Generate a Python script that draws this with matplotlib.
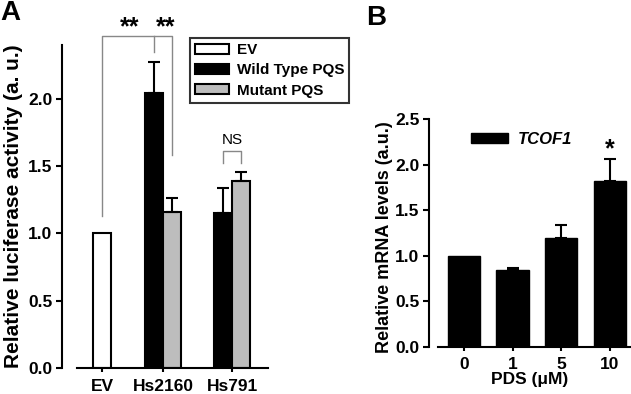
import matplotlib
matplotlib.use('Agg')
import matplotlib.pyplot as plt
import numpy as np
from matplotlib.patches import Patch

plt.rcParams.update({
    'font.family': 'Liberation Sans', 'font.weight': 'bold',
    'axes.labelweight': 'bold', 'font.size': 12.5, 'axes.linewidth': 1.5,
    'xtick.major.width': 1.5, 'ytick.major.width': 1.5,
})

# Panel A data
groups_a = ['EV', 'Hs2160', 'Hs791']
ev_val, ev_err = [1.0], [0.0]
wt_vals = [2.04, 1.15]
wt_errs = [0.23, 0.19]
mut_vals = [1.16, 1.39]
mut_errs = [0.10, 0.07]

# Panel B data
pds_labels = ['0', '1', '5', '10']
tcof1_vals = [1.0, 0.84, 1.19, 1.82]
tcof1_errs = [0.0, 0.03, 0.15, 0.24]

W, H = 631, 394
fig = plt.figure(figsize=(W / 100, H / 100), dpi=100)

def px_axes(x0, x1, ytop, ybot):
    return fig.add_axes([x0 / W, 1 - ybot / H, (x1 - x0) / W, (ybot - ytop) / H])

# ---------- Panel A ----------
ax = px_axes(62, 268, 45, 368)
x = np.array([0, 0.94, 2.0])   # group centres
bw = 0.28
ekw = dict(elinewidth=1.5, capthick=1.5, ecolor='black')
ax.bar(x[0], ev_val, bw, color='white', edgecolor='black', lw=1.5, label='EV')
ax.bar(x[1:] - bw / 2, wt_vals, bw, color='black', edgecolor='black', lw=1.5,
       yerr=[[0, 0], wt_errs], capsize=4.5, error_kw=ekw, label='Wild Type PQS')
ax.bar(x[1:] + bw / 2, mut_vals, bw, color='#bdbdbd', edgecolor='black', lw=1.5,
       yerr=[[0, 0], mut_errs], capsize=4.5, error_kw=ekw, label='Mutant PQS')

ax.set_xlim(-0.615, 2.55)
ax.set_ylim(0, 2.40)
ax.set_yticks([0, 0.5, 1.0, 1.5, 2.0])
ax.set_yticklabels(['0.0', '0.5', '1.0', '1.5', '2.0'])
ax.set_xticks(x)
ax.set_xticklabels(groups_a)
ax.tick_params(axis='x', length=3, pad=5)
ax.tick_params(axis='y', length=4, pad=3)
ax.spines['top'].set_visible(False)
ax.spines['right'].set_visible(False)
ax.spines['bottom'].set_bounds(-0.385, 2.55)
ax.set_ylabel('Relative luciferase activity (a. u.)', fontsize=15)
ax.yaxis.set_label_coords(-0.19, 0.5)

# significance brackets
gcol = '#888888'
ax.plot([0, 0, x[1] + bw / 2, x[1] + bw / 2], [1.13, 2.47, 2.47, 1.58],
        color=gcol, lw=1, clip_on=False)
ax.plot([x[1] - bw / 2] * 2, [2.47, 2.35], color=gcol, lw=1, clip_on=False)
ax.text(0.43, 2.44, '**', ha='center', va='bottom', fontsize=18, clip_on=False)
ax.text(0.985, 2.44, '**', ha='center', va='bottom', fontsize=18, clip_on=False)
ax.plot([x[2] - bw / 2, x[2] - bw / 2, x[2] + bw / 2, x[2] + bw / 2],
        [1.52, 1.61, 1.61, 1.52], color=gcol, lw=1)
ax.text(x[2], 1.64, 'NS', ha='center', va='bottom', fontsize=11, fontweight='normal')

leg = ax.legend(loc='upper left', bbox_to_anchor=(190 / W, 1 - 38 / H),
                bbox_transform=fig.transFigure, frameon=True, fancybox=False,
                edgecolor='black', handlelength=2.2, handleheight=0.65,
                labelspacing=0.4, borderpad=0.35, handletextpad=0.5,
                fontsize=11, borderaxespad=0)
leg.get_frame().set_linewidth(1.5)

# ---------- Panel B ----------
bx = px_axes(429, 630, 119, 347)
xb = np.arange(len(pds_labels))
bx.bar(xb, tcof1_vals, 0.66, color='black', edgecolor='black')
bx.errorbar(xb[1:], tcof1_vals[1:], yerr=[np.zeros(len(xb) - 1), tcof1_errs[1:]],
            fmt='none', capsize=4.5, **ekw)
bx.set_xlim(-0.72, 3.42)
bx.set_ylim(0, 2.5)
bx.set_yticks([0, 0.5, 1.0, 1.5, 2.0, 2.5])
bx.set_yticklabels(['0.0', '0.5', '1.0', '1.5', '2.0', '2.5'])
bx.set_xticks(xb)
bx.set_xticklabels(pds_labels)
bx.tick_params(axis='x', length=3, pad=4)
bx.tick_params(axis='y', length=4, pad=3)
bx.spines['top'].set_visible(False)
bx.spines['right'].set_visible(False)
bx.spines['bottom'].set_bounds(-0.54, 3.42)
bx.set_ylabel('Relative mRNA levels (a.u.)', fontsize=13)
bx.yaxis.set_label_coords(-0.18, 0.48)
bx.set_xlabel('PDS (\u03bcM)', fontsize=12.5, labelpad=0)
bx.text(3, tcof1_vals[3] + tcof1_errs[3] - 0.02, '*', ha='center', va='bottom',
        fontsize=18)
bx.legend(handles=[Patch(facecolor='black', edgecolor='black')], labels=['TCOF1'],
          loc='upper left', bbox_to_anchor=(471 / W, 1 - 132 / H),
          bbox_transform=fig.transFigure, frameon=False, handlelength=2.2,
          handleheight=0.5, handletextpad=0.6, borderaxespad=0,
          borderpad=0, prop=dict(family='Liberation Sans', weight='bold',
                                 style='italic', size=12))

# panel letters
fig.text(0 / W, 1 - 0 / H, 'A', fontsize=20, fontweight='bold', ha='left', va='top')
fig.text(366 / W, 1 - 5 / H, 'B', fontsize=20, fontweight='bold', ha='left', va='top')

fig.savefig('out.png', dpi=100)
